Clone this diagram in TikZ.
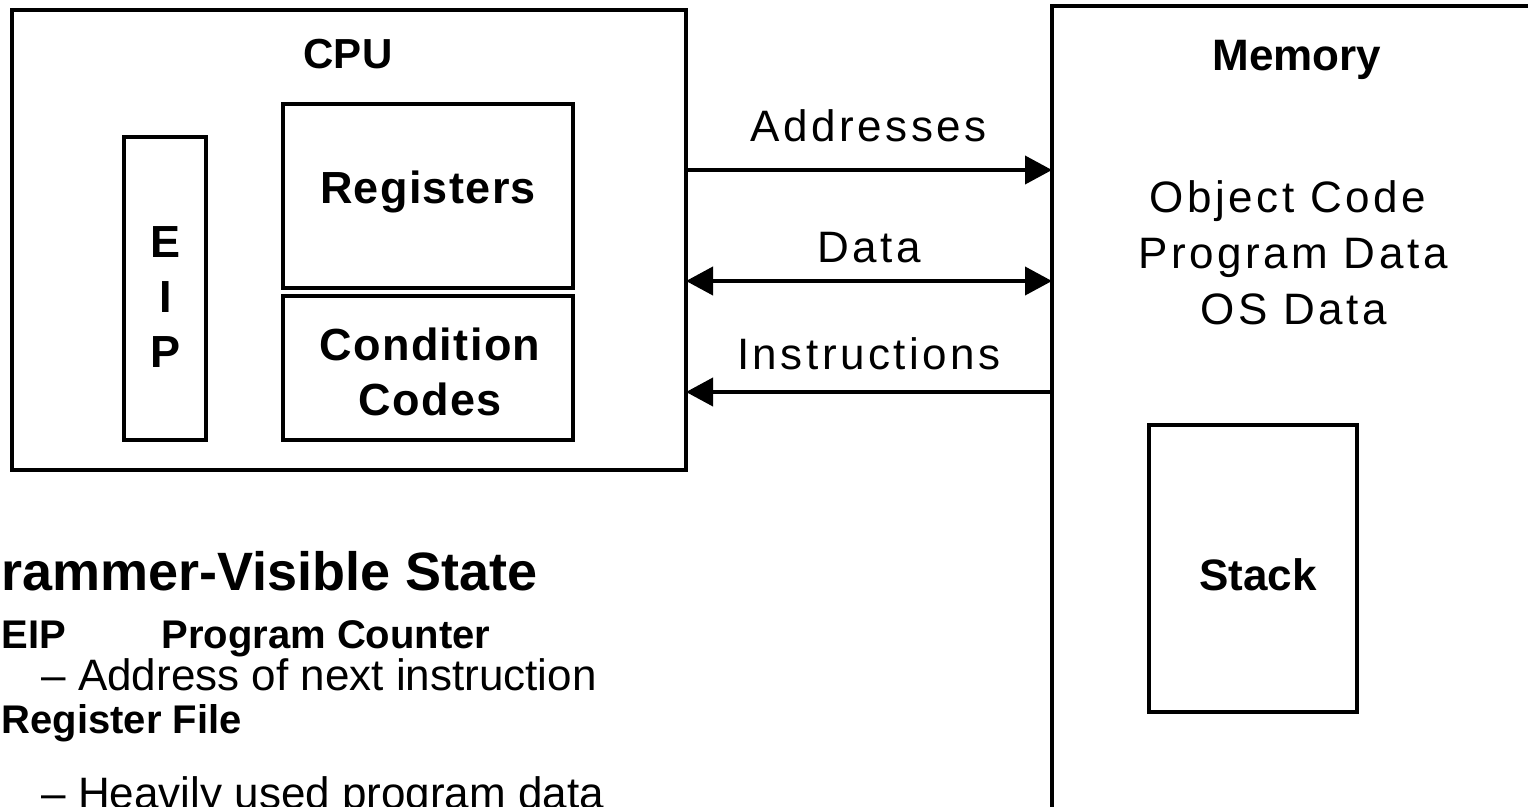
\documentclass[tikz,border=0pt]{standalone}
\usepackage{fontspec}
\setmainfont{Liberation Sans}
\newfontfamily\spaced{Liberation Sans}[LetterSpace=8]
\newfontfamily\bspaced{Liberation Sans Bold}[LetterSpace=3]
\usetikzlibrary{arrows.meta}
\tikzset{
  box/.style={draw, line width=4pt, inner sep=0pt, outer sep=0pt, anchor=north west},
  arr/.style={line width=4pt, -{Triangle[length=27pt,width=28pt]}},
  darr/.style={line width=4pt, {Triangle[length=27pt,width=28pt]}-{Triangle[length=27pt,width=28pt]}},
  bl/.style={anchor=base, font=\fontsize{45}{50}\selectfont\bspaced},
  rl/.style={anchor=base, font=\fontsize{44}{50}\selectfont\spaced},
  bt/.style={anchor=base west, font=\fontsize{40}{46}\selectfont\bfseries},
  rt/.style={anchor=base west, font=\fontsize{44}{48}\selectfont},
}
\begin{document}
\begin{tikzpicture}[x=1pt,y=-1pt]
\useasboundingbox (0,0) rectangle (1528,806);
\clip (0,0) rectangle (1528,806);
% boxes
\node[box, minimum width=674pt, minimum height=460pt] (cpu) at (12,10) {};
\node[box, minimum width=82pt, minimum height=303pt] (eip) at (124,137) {};
\node[box, minimum width=290pt, minimum height=184pt] (reg) at (283,104) {};
\node[box, minimum width=290pt, minimum height=144pt] (cc) at (283,296) {};
\node[box, minimum width=520pt, minimum height=860pt] (mem) at (1052,6) {};
\node[box, minimum width=208pt, minimum height=287pt] (stack) at (1149,425) {};
% labels in boxes
\node[bl, font=\fontsize{42}{48}\selectfont\bfseries] (cpul) at (348,68) {CPU};
\node[bl] (regl) at (428,203) {Registers};
\node[bl] (ccl1) at (430,360) {Condition};
\node[bl] (ccl2) at (430,415) {Codes};
\node[bl] (e1) at (166,257) {E};
\node[bl] (e2) at (166,312) {I};
\node[bl] (e3) at (166,367) {P};
\node[bl, font=\fontsize{44}{50}\selectfont\bfseries] (meml) at (1297,70) {Memory};
\node[rl] (m1) at (1288,212) {Object Code};
\node[rl] (m2) at (1293,268) {Program Data};
\node[rl] (m3) at (1294,324) {OS Data};
\node[bl, font=\fontsize{44}{50}\selectfont\bfseries] (stl) at (1258,590) {Stack};
% buses
\coordinate (ya) at (0,170);
\coordinate (yd) at (0,281);
\coordinate (yi) at (0,392);
\draw[arr] (cpu.east |- ya) -- (mem.west |- ya);
\draw[darr] (cpu.east |- yd) -- (mem.west |- yd);
\draw[arr] (mem.west |- yi) -- (cpu.east |- yi);
\node[rl] (al) at (869,141) {Addresses};
\node[rl] (dl) at (869,262) {Data};
\node[rl] (il) at (869,369) {Instructions};
% bottom text
\node[bt, font=\fontsize{54}{60}\selectfont\bfseries] (t1) at (-2,590) {rammer-Visible State};
\node[bt] (t2) at (-2,648) {EIP};
\node[bt] (t3) at (158,648) {Program Counter};
\node[rt] (t4) at (38,690) {– Address of next instruction};
\node[bt] (t5) at (-2,733) {Register File};
\node[rt] (t6) at (38,808) {– Heavily used program data};
\end{tikzpicture}
\end{document}
